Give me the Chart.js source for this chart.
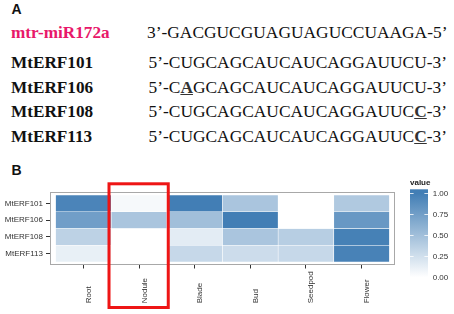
<!DOCTYPE html>
<html>
<head>
<meta charset="utf-8">
<script src="https://cdn.jsdelivr.net/npm/chart.js@4.4.1/dist/chart.umd.min.js"></script>
<style>
  html, body { margin: 0; padding: 0; background: #fff; }
  body { width: 454px; height: 314px; position: relative; overflow: hidden; }
  .tag { position: absolute; left: 11.5px; font-family: 'Liberation Sans', Arial, sans-serif; font-weight: bold; font-size: 14px; line-height: 1; color: #111; }
  .row { position: absolute; font-family: 'Liberation Serif', 'Times New Roman', serif; line-height: 1; color: #111; white-space: nowrap; }
  .name { left: 11px; font-size: 17.2px; font-weight: bold; }
  .seq { left: 148.5px; font-size: 17.4px; }
  .mirna { color: #e8186a; }
  .mut { font-weight: bold; text-decoration: underline; color: #333; }
  #wrap { position: absolute; left: 0; top: 160px; width: 454px; height: 154px; }
</style>
</head>
<body>
<div class="tag" style="top:2px">A</div>
<div class="row name mirna" style="top:23.5px">mtr-miR172a</div>
<div class="row seq" style="left:147px;top:23.5px">3’-GACGUCGUAGUAGUCCUAAGA-5’</div>
<div class="row name" style="top:54.1px">MtERF101</div>
<div class="row seq" style="top:54.1px">5’-CUGCAGCAUCAUCAGGAUUCU-3’</div>
<div class="row name" style="top:78.5px">MtERF106</div>
<div class="row seq" style="top:78.5px">5’-C<span class="mut">A</span>GCAGCAUCAUCAGGAUUCU-3’</div>
<div class="row name" style="top:103.1px">MtERF108</div>
<div class="row seq" style="top:103.1px">5’-CUGCAGCAUCAUCAGGAUUC<span class="mut">C</span>-3’</div>
<div class="row name" style="top:127.5px">MtERF113</div>
<div class="row seq" style="top:127.5px">5’-CUGCAGCAUCAUCAGGAUUC<span class="mut">C</span>-3’</div>
<div class="tag" style="top:162.5px">B</div>
<div id="wrap"><canvas id="heat"></canvas></div>
<script>
const tissues = ['Root', 'Nodule', 'Blade', 'Bud', 'Seedpod', 'Flower'];
const genes = ['MtERF101', 'MtERF106', 'MtERF108', 'MtERF113'];
// relative expression, one array per gene (columns follow tissues)
const erf101 = [0.95, 0.05, 1.00, 0.45, 0.00, 0.42];
const erf106 = [0.75, 0.45, 0.50, 1.00, 0.00, 0.80];
const erf108 = [0.35, 0.00, 0.15, 0.45, 0.38, 0.98];
const erf113 = [0.12, 0.00, 0.30, 0.27, 0.30, 0.97];
const legendTicks = [0, 0.25, 0.5, 0.75, 1];

const lowColor = [255, 255, 255];
const highColor = [66, 126, 181];

function fillFor(v) {
    const c = lowColor.map((lo, k) => Math.round(lo + (highColor[k] - lo) * v));
    return `rgb(${c[0]},${c[1]},${c[2]})`;
}

const rows = [erf101, erf106, erf108, erf113];
const FONT = "'Liberation Sans', Arial, sans-serif";

const datasets = rows.map((vals, r) => ({
    label: genes[r],
    data: vals.map((v, i) => ({ x: i + 0.5, y: [r, r + 1] })),
    backgroundColor: vals.map(fillFor),
    borderColor: 'rgba(255,255,255,0.45)',
    borderWidth: 0.6,
    borderSkipped: false,
    grouped: false,
    barPercentage: 1,
    categoryPercentage: 1
}));

// panel border, rotated tissue labels, red box and colour bar
const decor = {
    id: 'decor',
    afterDatasetsDraw(chart) {
        const { ctx, chartArea: a } = chart;
        ctx.save();
        ctx.strokeStyle = '#a8a8a8';
        ctx.lineWidth = 1;
        ctx.strokeRect(Math.round(a.left) + 0.5, a.top, Math.round(a.width) - 1, a.height);
        ctx.restore();
    },
    afterDraw(chart) {
        const { ctx, chartArea: a, scales: { x } } = chart;
        ctx.save();

        ctx.font = '8px ' + FONT;
        ctx.fillStyle = '#333';
        ctx.textAlign = 'left';
        ctx.textBaseline = 'alphabetic';
        x.ticks.forEach(t => {
            const px = x.getPixelForValue(t.value);
            ctx.save();
            ctx.translate(px + 7.5, a.bottom + 38.8);
            ctx.rotate(-Math.PI / 2);
            ctx.fillText(tissues[Math.floor(t.value)], 0, 0);
            ctx.restore();
        });

        const n = tissues.indexOf('Nodule');
        const l = x.getPixelForValue(n) - 2.2;
        const r = x.getPixelForValue(n + 1) + 1.4;
        const top = a.top - 8.7, bottom = a.bottom + 43;
        ctx.strokeStyle = '#ee1515';
        ctx.lineWidth = 3;
        ctx.strokeRect(l, top, r - l, bottom - top);

        // colour bar legend
        const bx = 410, bw = 18, y0 = 117.3, y1 = 33.3;
        const yFor = v => y0 + (y1 - y0) * v;
        const grad = ctx.createLinearGradient(0, y0, 0, y1);
        grad.addColorStop(0, fillFor(0));
        grad.addColorStop(0.5, fillFor(0.5));
        grad.addColorStop(1, fillFor(1));
        ctx.fillStyle = grad;
        ctx.fillRect(bx, y1 - 4, bw, (y0 - y1) + 8);

        ctx.strokeStyle = 'rgba(255,255,255,0.8)';
        ctx.lineWidth = 1;
        legendTicks.forEach(v => {
            const y = Math.round(yFor(v)) + 0.5;
            ctx.beginPath();
            ctx.moveTo(bx, y); ctx.lineTo(bx + 3.6, y);
            ctx.moveTo(bx + bw - 3.6, y); ctx.lineTo(bx + bw, y);
            ctx.stroke();
        });

        ctx.fillStyle = '#333';
        ctx.textBaseline = 'middle';
        ctx.font = '8px ' + FONT;
        legendTicks.forEach(v => ctx.fillText(v.toFixed(2), 432.7, yFor(v)));

        ctx.fillStyle = '#222';
        ctx.font = 'bold 8px ' + FONT;
        ctx.fillText('value', bx, 22.7);
        ctx.restore();
    }
};

new Chart(document.getElementById('heat'), {
    type: 'bar',
    data: { datasets },
    options: {
        responsive: true,
        maintainAspectRatio: false,
        animation: false,
        layout: { padding: { top: 32.5, right: 59, left: 0, bottom: 0 } },
        plugins: { legend: { display: false }, tooltip: { enabled: false } },
        scales: {
            x: {
                type: 'linear',
                offset: false,
                min: -0.1,
                max: 6.1,
                afterBuildTicks: s => { s.ticks = tissues.map((t, i) => ({ value: i + 0.5 })); },
                afterFit: s => { s.height = 49.5; },
                ticks: { display: false },
                grid: { offset: false, drawOnChartArea: false, drawTicks: true, tickLength: 4, color: '#333' },
                border: { display: false }
            },
            y: {
                type: 'linear',
                reverse: true,
                min: -0.15,
                max: 4.15,
                afterBuildTicks: s => { s.ticks = genes.map((g, i) => ({ value: i + 0.5 })); },
                afterFit: s => { s.width = 50; },
                ticks: {
                    padding: 3,
                    color: '#333',
                    font: { family: FONT, size: 8 },
                    callback: v => genes[Math.floor(v)]
                },
                grid: { drawOnChartArea: false, drawTicks: true, tickLength: 4, color: '#333' },
                border: { display: false }
            }
        }
    },
    plugins: [decor]
});
</script>
</body>
</html>
